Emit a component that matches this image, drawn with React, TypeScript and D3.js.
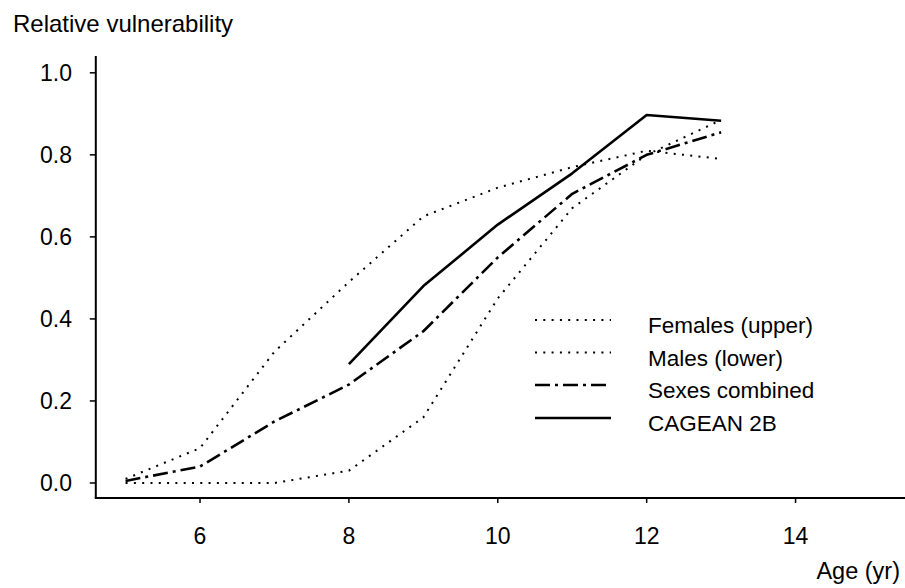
import React from "react";
import * as d3 from "d3";

const ages = [5, 6, 7, 8, 9, 10, 11, 12, 13];
const females = [0.01, 0.085, 0.32, 0.49, 0.65, 0.72, 0.77, 0.81, 0.79];
const males = [0.0, 0.0, 0.0, 0.03, 0.16, 0.45, 0.67, 0.8, 0.885];
const combined = [0.005, 0.04, 0.15, 0.24, 0.37, 0.55, 0.705, 0.8, 0.855];
const cageanAges = [8, 9, 10, 11, 12, 13];
const cagean = [0.29, 0.48, 0.63, 0.755, 0.897, 0.883];

const xTicks = [6, 8, 10, 12, 14];
const yTicks = [0, 0.2, 0.4, 0.6, 0.8, 1.0];
const legendLabels = ["Females (upper)", "Males (lower)", "Sexes combined", "CAGEAN 2B"];

const W = 905;
const H = 588;
const FONT = "'Liberation Sans', Arial, Helvetica, sans-serif";

export default function App() {
  const x = d3.scaleLinear().domain([4.6, 15.47]).range([95.8, 905]);
  const y = d3.scaleLinear().domain([-0.0366, 1.041]).range([498, 56]);
  const line = d3
    .line<[number, number]>()
    .x((d) => x(d[0]))
    .y((d) => y(d[1]));

  const pts = (xs: number[], vs: number[]) => xs.map((a, i) => [a, vs[i]] as [number, number]);

  const dotted = { strokeDasharray: "2,6.3", strokeWidth: 2 };
  const dashdot = { strokeDasharray: "15,5,3,5", strokeWidth: 2.6 };
  const solid = { strokeDasharray: "none", strokeWidth: 2.6 };
  const styles = [dotted, dotted, dashdot, solid];
  const series = [
    pts(ages, females),
    pts(ages, males),
    pts(ages, combined),
    pts(cageanAges, cagean),
  ];

  const [x0, x1] = x.range();
  const [yb, yt] = y.range();
  const legendY = [320, 352.5, 385, 418];

  return (
    <svg
      width={W}
      height={H}
      style={{ position: "absolute", left: 0, top: 0, background: "#fff" }}
      fontFamily={FONT}
    >
      <rect x={0} y={0} width={W} height={H} fill="#fff" />
      <text x={13} y={32} fontSize={24} fill="#000">
        Relative vulnerability
      </text>

      {/* axes */}
      <line x1={x0} x2={x0} y1={yb} y2={yt} stroke="#000" strokeWidth={2} />
      <line x1={x0 - 1} x2={x1} y1={yb} y2={yb} stroke="#000" strokeWidth={2} />
      {yTicks.map((t) => (
        <g key={"y" + t}>
          <line x1={x0 - 6} x2={x0} y1={y(t)} y2={y(t)} stroke="#000" strokeWidth={1.5} />
          <text x={72} y={y(t)} dy="0.36em" textAnchor="end" fontSize={23} fill="#000">
            {d3.format(".1f")(t)}
          </text>
        </g>
      ))}
      {xTicks.map((t) => (
        <g key={"x" + t}>
          <line x1={x(t)} x2={x(t)} y1={yb} y2={yb + 5} stroke="#000" strokeWidth={1.5} />
          <text x={x(t)} y={544} textAnchor="middle" fontSize={23} fill="#000">
            {t}
          </text>
        </g>
      ))}
      <text x={900} y={579} textAnchor="end" fontSize={23.5} fill="#000">
        Age (yr)
      </text>

      {/* series */}
      {series.map((s, i) => (
        <path
          key={"s" + i}
          d={line(s) || ""}
          fill="none"
          stroke="#000"
          strokeWidth={styles[i].strokeWidth}
          strokeDasharray={styles[i].strokeDasharray}
          strokeLinejoin="round"
        />
      ))}

      {/* legend */}
      {legendLabels.map((lab, i) => (
        <g key={"l" + i}>
          <line
            x1={535}
            x2={611}
            y1={legendY[i]}
            y2={legendY[i]}
            stroke="#000"
            strokeWidth={styles[i].strokeWidth}
            strokeDasharray={styles[i].strokeDasharray}
          />
          <text x={648} y={legendY[i] + 13} fontSize={22.5} fill="#000">
            {lab}
          </text>
        </g>
      ))}
    </svg>
  );
}
